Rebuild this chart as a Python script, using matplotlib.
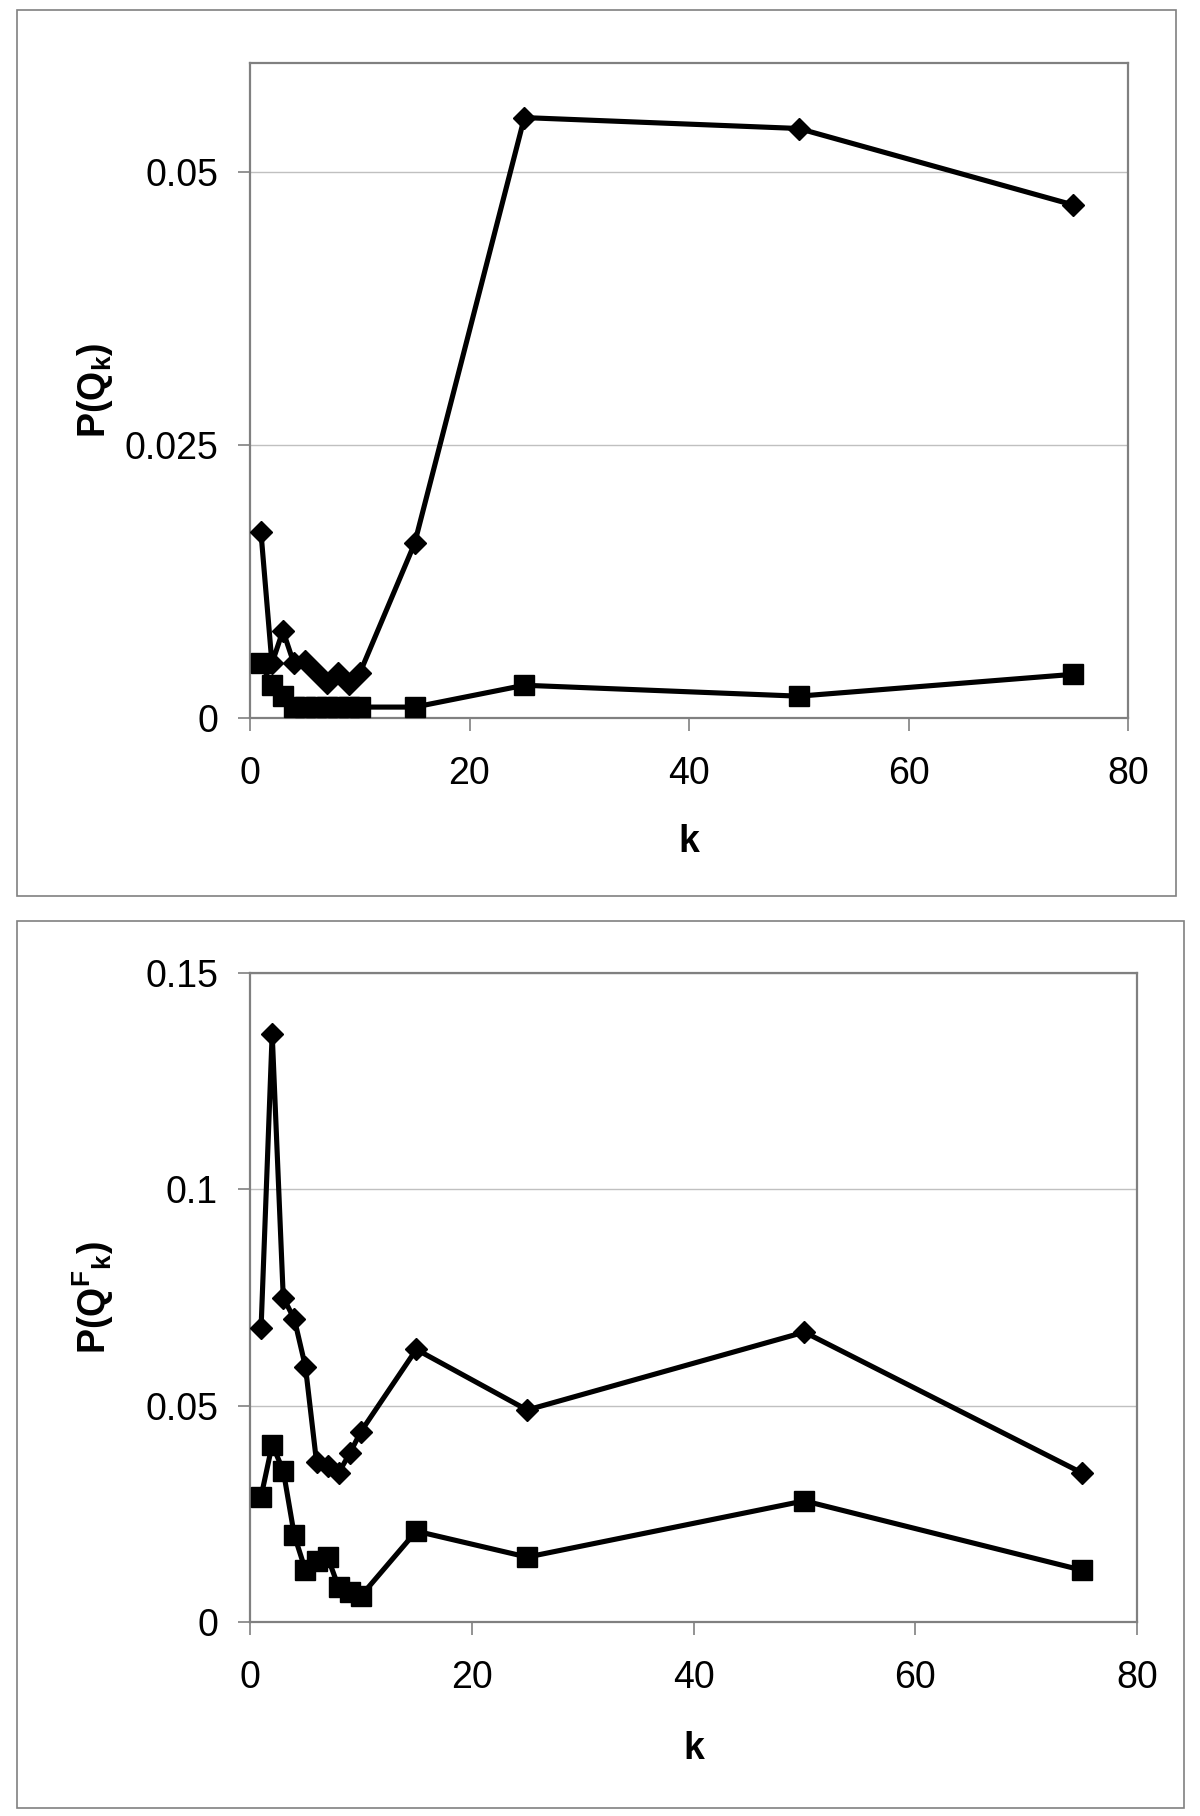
import matplotlib
matplotlib.use('Agg')
import matplotlib.pyplot as plt
from matplotlib.patches import Rectangle

plt.rcParams['font.family'] = ['Liberation Sans', 'DejaVu Sans']
plt.rcParams['mathtext.fontset'] = 'custom'
plt.rcParams['mathtext.rm'] = 'Liberation Sans'
plt.rcParams['mathtext.bf'] = 'Liberation Sans:bold'

# data
k = [1, 2, 3, 4, 5, 6, 7, 8, 9, 10, 15, 25, 50, 75]

top_diamond = [0.017, 0.005, 0.008, 0.005, 0.0052, 0.0042, 0.0032, 0.0041, 0.0031, 0.0041,
               0.016, 0.055, 0.054, 0.047]
top_square = [0.005, 0.003, 0.002, 0.001, 0.001, 0.001, 0.001, 0.001, 0.001, 0.001,
              0.001, 0.003, 0.002, 0.004]

bot_diamond = [0.068, 0.136, 0.075, 0.070, 0.059, 0.037, 0.036, 0.0345, 0.039, 0.044,
               0.063, 0.049, 0.067, 0.0345]
bot_square = [0.029, 0.041, 0.035, 0.020, 0.012, 0.014, 0.015, 0.008, 0.007, 0.006,
              0.021, 0.015, 0.028, 0.012]

x_ticks = [0, 20, 40, 60, 80]
top_yticks = [0, 0.025, 0.05]
top_ylabels = ['0', '0.025', '0.05']
bot_yticks = [0, 0.05, 0.1, 0.15]
bot_ylabels = ['0', '0.05', '0.1', '0.15']

W, H = 1200, 1816
fig = plt.figure(figsize=(W / 100, H / 100), dpi=100)

axis_grey = '#808080'
grid_grey = '#c0c0c0'


def px_axes(left, top, right, bottom):
    return [left / W, 1 - bottom / H, (right - left) / W, (bottom - top) / H]


def style(ax, yticks, ylabels, ylim):
    ax.set_xlim(0, 80)
    ax.set_ylim(*ylim)
    ax.set_xticks(x_ticks)
    ax.set_xticklabels([str(t) for t in x_ticks])
    ax.set_yticks(yticks)
    ax.set_yticklabels(ylabels)
    ax.yaxis.grid(True, color=grid_grey, lw=1)
    ax.set_axisbelow(True)
    for s in ax.spines.values():
        s.set_color(axis_grey)
        s.set_linewidth(1.6)
    ax.tick_params(axis='both', direction='out', length=9, width=1.2, color=axis_grey,
                   labelsize=27, pad=14)
    ax.tick_params(axis='x', pad=18)


def panel(rect_px, frame_px, xs, d, s, yticks, ylabels, ylim, ylabel, ylab_y, xlab_y):
    ax = fig.add_axes(px_axes(*rect_px))
    ax.plot(xs, d, color='black', lw=3.7, marker='D', ms=11, clip_on=False, zorder=3)
    ax.plot(xs, s, color='black', lw=3.7, marker='s', ms=14, clip_on=False, zorder=3)
    style(ax, yticks, ylabels, ylim)
    ax.text(-0.177, ylab_y, ylabel, transform=ax.transAxes, rotation=90,
            ha='center', va='center', fontsize=27, fontweight='bold')
    ax.text(0.5, xlab_y, 'k', transform=ax.transAxes, ha='center', va='center',
            fontsize=27, fontweight='bold')
    l, t, r, b = frame_px
    fig.patches.append(Rectangle((l / W, 1 - b / H), (r - l) / W, (b - t) / H,
                                 transform=fig.transFigure, fill=False,
                                 edgecolor=axis_grey, lw=1.2))
    return ax


panel((250, 63, 1128, 718), (17, 10, 1176, 896), k, top_diamond, top_square,
      top_yticks, top_ylabels, (0, 0.06), r'P(Q$_{\mathbf{k}}$)', 0.5, -0.19)
panel((250, 973, 1137, 1622), (17, 921, 1184, 1808), k, bot_diamond, bot_square,
      bot_yticks, bot_ylabels, (0, 0.15), r'P(Q$^{\mathbf{F}}{}_{\mathbf{k}}$)', 0.5, -0.196)

fig.savefig('out.png', dpi=100)
